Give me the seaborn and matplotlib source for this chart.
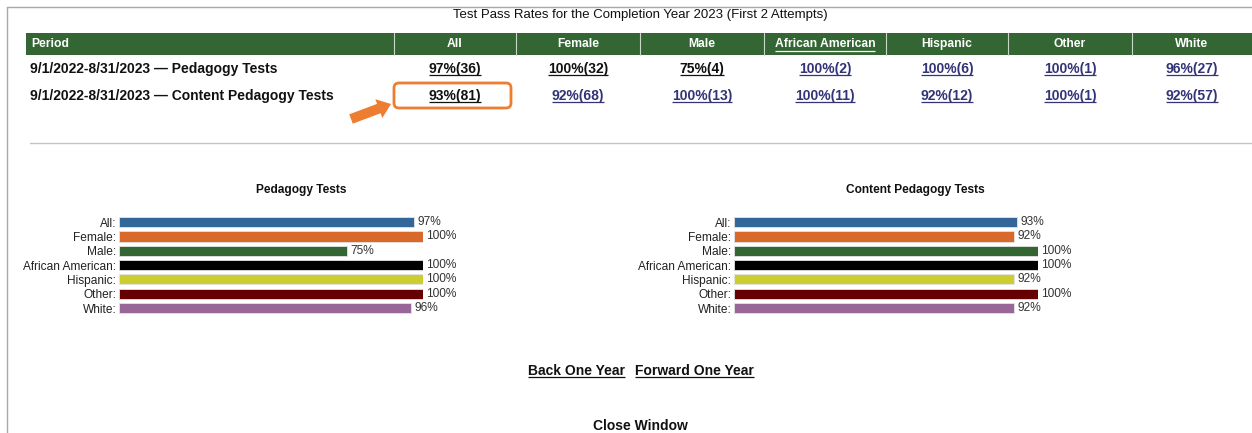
''' Test pass rates page: summary table plus two horizontal bar charts
'''
#%% Import packages
import matplotlib.pyplot as plt
import seaborn as sns
from matplotlib.patches import FancyArrow, FancyBboxPatch, Rectangle


#%% Data
groups = ['All', 'Female', 'Male', 'African American', 'Hispanic', 'Other', 'White']
periods = ['9/1/2022-8/31/2023 \u2014 Pedagogy Tests',
           '9/1/2022-8/31/2023 \u2014 Content Pedagogy Tests']
chart_titles = ['Pedagogy Tests', 'Content Pedagogy Tests']

pedagogy_pct = [97, 100, 75, 100, 100, 100, 96]
pedagogy_n = [36, 32, 4, 2, 6, 1, 27]
content_pct = [93, 92, 100, 100, 92, 100, 92]
content_n = [81, 68, 13, 11, 12, 1, 57]

bar_colors = ['#336699', '#d9692a', '#336633', '#000000', '#cccc33', '#660000', '#996699']

W, H = 1252, 433
GREEN = '#336633'
NAVY = '#333377'
ORANGE = '#ed7d31'

sns.set_style('white')
plt.rcParams['font.family'] = ['Liberation Sans', 'DejaVu Sans']


def px_axes(fig, x0, y0, x1, y1):
    # axes placed in page pixel coordinates (y from the top)
    return fig.add_axes([x0 / W, 1 - y1 / H, (x1 - x0) / W, (y1 - y0) / H])


fig = plt.figure(figsize=(W / 100, H / 100), dpi=100)
bg = fig.add_axes([0, 0, 1, 1])
bg.set_xlim(0, W)
bg.set_ylim(H, 0)
bg.axis('off')

#%% Page frame and title
bg.plot([7, W], [7, 7], color='#a8a8a8', lw=1)
bg.plot([7, 7], [7, H], color='#a8a8a8', lw=1)
bg.text(640, 15, 'Test Pass Rates for the Completion Year 2023 (First 2 Attempts)',
        ha='center', va='center', fontsize=9.5, color='#111111')

#%% Table
col_edges = [26, 394, 516, 640, 764, 886, 1008, 1132, W]
bg.add_patch(Rectangle((26, 33), W - 26, 22, color=GREEN, lw=0))
for x in col_edges[1:-1]:
    bg.plot([x, x], [33, 55], color='#c8d6c8', lw=0.8)

underlined = []
bg.text(31, 44, 'Period', ha='left', va='center', fontsize=8.7,
        fontweight='bold', color='white')
for i, g in enumerate(groups):
    cx = (col_edges[i + 1] + col_edges[i + 2]) / 2
    t = bg.text(cx, 44, g, ha='center', va='center', fontsize=8.7,
                fontweight='bold', color='white')
    if g == 'African American':
        underlined.append(t)

visited = [[True, True, True, False, False, False, False],
           [True, False, False, False, False, False, False]]
row_base = [73, 100]
for r, (label, pct, n) in enumerate(zip(periods,
                                        [pedagogy_pct, content_pct],
                                        [pedagogy_n, content_n])):
    bg.text(30, row_base[r], label, ha='left', va='baseline', fontsize=10,
            fontweight='bold', color='#111111')
    for i in range(len(groups)):
        cx = (col_edges[i + 1] + col_edges[i + 2]) / 2
        t = bg.text(cx, row_base[r], f'{pct[i]}%({n[i]})', ha='center',
                    va='baseline', fontsize=10, fontweight='bold',
                    color='#111111' if visited[r][i] else NAVY)
        underlined.append(t)

# highlight box and arrow
bg.add_patch(FancyBboxPatch((394, 83), 117, 25,
                            boxstyle='round,pad=0,rounding_size=5',
                            fill=False, ec=ORANGE, lw=2))
bg.add_patch(FancyArrow(351, 119, 40, -15, width=10, head_width=20,
                        head_length=13, length_includes_head=True,
                        color=ORANGE, lw=0))

bg.plot([30, W], [143, 143], color='#c4c4c4', lw=1)

#%% Bar charts
for (x0, x1, tx), title, pct in zip([(119, 423, 301), (734, 1038, 915)],
                                    chart_titles, [pedagogy_pct, content_pct]):
    bg.text(tx, 190, title, ha='center', va='center', fontsize=8.6,
            fontweight='bold', color='#111111')
    ax = px_axes(fig, x0, 215, x1, 315.3)
    labels = [f'{g}:' for g in groups]
    sns.barplot(x=pct, y=labels, hue=labels, palette=bar_colors, legend=False,
                orient='h', width=0.7, saturation=1, ax=ax,
                edgecolor='#e4e4e4', linewidth=0.6)
    for c in ax.containers:
        ax.bar_label(c, fmt='%g%%', padding=2.5, fontsize=8.6, color='#333333')
    ax.set_xlim(0, 100)
    ax.set_ylim(6.5, -0.5)
    ax.set_xticks([])
    ax.set_xlabel('')
    ax.set_ylabel('')
    ax.tick_params(axis='y', length=0, pad=2, labelsize=8.6, labelcolor='#222222')
    ax.patch.set_alpha(0)
    sns.despine(ax=ax, left=True, bottom=True)

#%% Navigation links
for x, s in [(576, 'Back One Year'), (694.5, 'Forward One Year')]:
    underlined.append(bg.text(x, 375, s, ha='center', va='baseline', fontsize=10,
                              fontweight='bold', color='#111111'))
bg.text(640, 432.5, 'Close Window', ha='center', va='bottom', fontsize=10,
        fontweight='bold', color='#111111')

#%% Underlines for the link texts
fig.canvas.draw()
inv = bg.transData.inverted()
for t in underlined:
    bb = t.get_window_extent()
    (xa, _), (xb, _) = inv.transform([(bb.x0, bb.y0), (bb.x1, bb.y0)])
    ty = t.get_position()[1]
    if t.get_va() == 'center':
        ty += 5
    bg.plot([xa, xb], [ty + 1.8, ty + 1.8], color=t.get_color(), lw=0.9,
            solid_capstyle='butt')

fig.savefig('out.png', dpi=100)
